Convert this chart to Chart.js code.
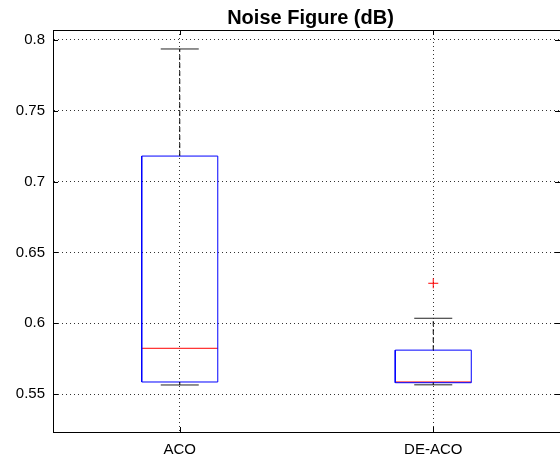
<!DOCTYPE html>
<html>
<head>
<meta charset="utf-8">
<script src="https://cdn.jsdelivr.net/npm/chart.js@4.4.0/dist/chart.umd.min.js"></script>
<style>
  html, body { margin: 0; padding: 0; background: #fff; overflow: hidden; }
  #wrap { width: 560px; height: 461px; position: relative; }
</style>
</head>
<body>
<div id="wrap"><canvas id="c"></canvas></div>
<script>
// box plot stats
const categories = ["ACO", "DE-ACO"];
const whiskerLow = [0.5564, 0.5565];
const q1 = [0.5585, 0.5580];
const median = [0.5823, 0.5585];
const q3 = [0.7180, 0.5810];
const whiskerHigh = [0.7936, 0.6035];
const outliers = [[], [0.6282]];
const yTicks = [0.55, 0.6, 0.65, 0.7, 0.75, 0.8];
const titleText = "Noise Figure (dB)";

const FONT = "Liberation Sans, Arial, sans-serif";
const halfBox = 0.15;
const halfCap = 0.075;

const seg = (pts, color, dash) => ({
  type: "scatter",
  data: pts.map(p => ({ x: p[0], y: p[1] })),
  showLine: true,
  borderColor: color,
  backgroundColor: color,
  borderWidth: 1,
  borderDash: dash || [],
  pointRadius: 0,
  pointHoverRadius: 0,
});

const datasets = [];
categories.forEach((name, i) => {
  const x = i + 1;
  // whiskers (dashed) and caps
  datasets.push(seg([[x, q3[i]], [x, whiskerHigh[i]]], "#000", [5, 3]));
  datasets.push(seg([[x, q1[i]], [x, whiskerLow[i]]], "#000", [5, 3]));
  datasets.push(seg([[x - halfCap, whiskerHigh[i]], [x + halfCap, whiskerHigh[i]]], "#222"));
  datasets.push(seg([[x - halfCap, whiskerLow[i]], [x + halfCap, whiskerLow[i]]], "#222"));
  // box
  datasets.push(seg([
    [x - halfBox, q1[i]], [x + halfBox, q1[i]], [x + halfBox, q3[i]],
    [x - halfBox, q3[i]], [x - halfBox, q1[i]]
  ], "#0000ff"));
  // median
  datasets.push(seg([[x - halfBox, median[i]], [x + halfBox, median[i]]], "#ff0000"));
  // outliers
  if (outliers[i].length) {
    datasets.push({
      type: "scatter",
      data: outliers[i].map(v => ({ x: x, y: v })),
      pointStyle: "cross",
      pointRadius: 5,
      borderColor: "#ff0000",
      borderWidth: 1,
      showLine: false,
    });
  }
});

// MATLAB style frame: top edge, inward ticks, title centred over the axes
const matlabFrame = {
  id: "matlabFrame",
  afterDraw(chart) {
    const { ctx, chartArea, scales } = chart;
    const { left, right, top, bottom } = chartArea;
    ctx.save();
    ctx.strokeStyle = "#000";
    ctx.lineWidth = 1;
    ctx.beginPath();
    ctx.moveTo(left, top + 0.5);
    ctx.lineTo(right + 2, top + 0.5);
    // y ticks on both sides
    yTicks.forEach(v => {
      const y = Math.round(scales.y.getPixelForValue(v)) + 0.5;
      ctx.moveTo(left, y); ctx.lineTo(left + 5, y);
      ctx.moveTo(right - 5, y); ctx.lineTo(right, y);
    });
    // x ticks on top and bottom
    categories.forEach((c, i) => {
      const x = Math.round(scales.x.getPixelForValue(i + 1)) + 0.5;
      ctx.moveTo(x, bottom); ctx.lineTo(x, bottom - 5);
      ctx.moveTo(x, top); ctx.lineTo(x, top + 5);
    });
    ctx.stroke();
    ctx.fillStyle = "#000";
    ctx.font = "bold 20px " + FONT;
    ctx.textAlign = "center";
    ctx.textBaseline = "alphabetic";
    ctx.fillText(titleText, (left + right) / 2 + 4, top - 6);
    ctx.restore();
  }
};

new Chart(document.getElementById("c"), {
  type: "scatter",
  data: { datasets },
  options: {
    responsive: true,
    maintainAspectRatio: false,
    animation: false,
    layout: { autoPadding: false, padding: { left: 0, right: -1, top: 30, bottom: 0 } },
    plugins: {
      legend: { display: false },
      tooltip: { enabled: false },
      title: { display: false },
    },
    scales: {
      x: {
        type: "linear",
        min: 0.5,
        max: 2.5,
        afterBuildTicks: s => { s.ticks = categories.map((c, i) => ({ value: i + 1 })); },
        afterFit: s => { s.height = 29; },
        ticks: {
          callback: v => categories[Math.round(v) - 1] || "",
          color: "#000",
          padding: 9,
          font: { family: FONT, size: 15 },
        },
        grid: { color: "#333", drawTicks: false, lineWidth: 1 },
        border: { display: true, color: "#000", width: 1, dash: [1, 3] },
      },
      y: {
        min: 0.5232,
        max: 0.807,
        afterBuildTicks: s => { s.ticks = yTicks.map(v => ({ value: v })); },
        afterFit: s => { s.width = 53; },
        ticks: {
          callback: v => String(+v.toFixed(2)),
          color: "#000",
          padding: 8,
          font: { family: FONT, size: 15 },
        },
        grid: { color: "#333", drawTicks: false, lineWidth: 1 },
        border: { display: true, color: "#000", width: 1, dash: [1, 3] },
      },
    },
  },
  plugins: [matlabFrame],
});
</script>
</body>
</html>
